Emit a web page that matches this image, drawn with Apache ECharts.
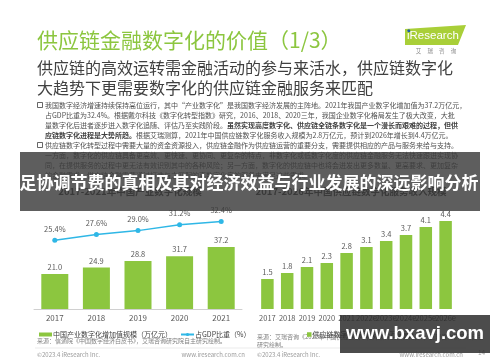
<!DOCTYPE html>
<html><head><meta charset="utf-8">
<script src="https://cdn.jsdelivr.net/npm/echarts@6/dist/echarts.min.js"></script>
<style>html,body{margin:0;padding:0;background:#fff}#c{width:500px;height:362px}</style>
</head><body><div id="c"></div>
<script>
// ---- data ----
const leftYears = ['2017', '2018', '2019', '2020', '2021'];
const industryValue = [21.0, 24.9, 28.8, 31.7, 37.2];
const gdpShare = [25.4, 27.6, 29.0, 31.2, 32.4];
const rightYears = ['2017', '2018', '2019', '2020', '2021', '2022e', '2023e', '2024e', '2025e', '2026e'];
const serviceRevenue = [1.5, 1.8, 2.1, 2.3, 2.8, 3.1, 3.4, 3.7, 4.1, 4.4];
const leftBarName = '中国产业数字化增加值规模（万亿元）';
const leftLineName = '占GDP比重（%）';
const rightBarName = '供应链数字化服务收入（万亿元）';
const leftTitle = '2017-2021年中国产业数字化规模';
const rightTitle = '2017-2026年中国供应链数字化服务收入规模';
const mainTitle = '供应链金融数字化的价值（1/3）';
const subTitle1 = '供应链的高效运转需金融活动的参与来活水，供应链数字化';
const subTitle2 = '大趋势下更需要数字化的供应链金融服务来匹配';
const bulletLines = [
  '我国数字经济增速持续保持高位运行，其中“产业数字化”是我国数字经济发展的主阵地。2021年我国产业数字化增加值为37.2万亿元，',
  '占GDP比重为32.4%。根据戴尔科技《数字化转型指数》研究，2016、2018、2020三年，我国企业数字化格局发生了极大改变，大批',
  '量数字化后进者逐步进入数字化追随、评估乃至实践阶段。{b|虽然实现高度数字化、供应链全链条数字化是一个漫长而艰难的过程，但供}',
  '{b|应链数字化进程是大势所趋。}根据艾瑞测算，2021年中国供应链数字化服务收入规模为2.8万亿元，预计到2026年增长到4.4万亿元。',
  '供应链数字化转型过程中需要大量的资金资源投入，供应链金融作为供应链运营的重要分支，需要提供相应的产品与服务来给与支持。',
  '一方面，数字化的供应链具备更高效、更快速、更协同、更复杂的特点，非数字化或低数字化度的供应链金融服务无法快速跟进实现协',
  '同，在提供服务的过程中更无法有效识别其中的各种风险；另一方面，数字化的供应链中也将会迸发出更多数量、更高要求、更加复杂',
  '的金融需求，供应链金融需要通过打造与之匹配的高数字化度的服务来满足这些需求。'
];
const bannerText = '足协调节费的真相及其对经济效益与行业发展的深远影响分析';
const watermark = 'www.bxavj.com';
const sourceLeft = '来源：信通院《中国数字经济白皮书》，艾瑞咨询研究院自主研究绘制。';
const sourceRight1 = '来源：艾瑞咨询《2022年中国供应链数字化升级行业研究报告》，艾瑞咨询研究院自主';
const sourceRight2 = '研究绘制。';
const copyright = '©2023.4 iResearch Inc.';
const site = 'www.iresearch.com.cn';

const FONT = '"Noto Sans CJK SC","Noto Sans",sans-serif';
const GREEN = '#8cc63f';
const BLUE = '#2fb7e6';
const GRAY = '#595959';

function txt(text, x, y, size, opts) {
  opts = opts || {};
  return {
    type: 'text', z: opts.z || 1, zlevel: 0,
    style: Object.assign({
      text: text, x: x, y: y, fontSize: size, fontFamily: FONT,
      fill: opts.fill || '#404040', fontWeight: opts.weight || 'normal',
      textAlign: opts.align || 'left', verticalAlign: 'middle'
    }, opts.extra || {})
  };
}

const bulletYs = [105, 115, 125, 135, 145, 155.5, 165.5, 175];
const graphics = [];
graphics.push(txt(mainTitle, 37, 40, 21, {fill: GREEN}));
graphics.push(txt(subTitle1, 37, 68, 16, {fill: '#404040'}));
graphics.push(txt(subTitle2, 37, 88, 16, {fill: '#404040'}));
bulletLines.forEach(function (l, i) {
  graphics.push(txt(l, 45, bulletYs[i], 7, {fill: '#505050', extra: {rich: {b: {fontWeight: 'bold', fontSize: 7, fontFamily: FONT, fill: '#404040'}}}}));
});
[105, 145].forEach(function (y) {
  graphics.push({type: 'rect', z: 1, shape: {x: 37.5, y: y - 2.5, width: 5, height: 5}, style: {fill: '#fff', stroke: '#404040', lineWidth: 0.8}});
});
graphics.push(txt(leftTitle, 130, 191, 9.5, {weight: 'bold', align: 'center', fill: '#333'}));
graphics.push(txt(rightTitle, 351, 191, 9.5, {weight: 'bold', align: 'center', fill: '#333'}));
// logo
graphics.push({type: 'polygon', z: 1, shape: {points: [[405, 29], [466, 25], [458, 45], [405, 45]]}, style: {fill: '#a9cf38'}});
graphics.push(txt('iResearch', 407, 36, 11.5, {fill: '#fff', extra: {fontFamily: '"Liberation Sans",sans-serif'}}));
graphics.push({type: 'circle', z: 2, shape: {cx: 408.8, cy: 30.8, r: 1.5}, style: {fill: '#1f5fa8'}});
graphics.push(txt('艾     瑞     咨     询', 436, 51, 5.5, {fill: '#888', align: 'center'}));
// sources & footer
graphics.push(txt(sourceLeft, 37, 341, 6, {fill: '#808080'}));
graphics.push(txt(sourceRight1, 257, 337, 6, {fill: '#808080'}));
graphics.push(txt(sourceRight2, 257, 345, 6, {fill: '#808080'}));
graphics.push({type: 'line', z: 1, shape: {x1: 35, y1: 348, x2: 466, y2: 348}, style: {stroke: '#e3e3e3', lineWidth: 0.7}});
graphics.push(txt(copyright, 37, 355, 6, {fill: '#9a9a9a'}));
graphics.push(txt(site, 245, 355, 6, {fill: '#9a9a9a', align: 'right'}));
graphics.push(txt(copyright, 257, 355, 6, {fill: '#9a9a9a'}));
graphics.push(txt(site, 463, 355, 6, {fill: '#9a9a9a', align: 'right'}));
graphics.push(txt('14', 478, 353, 6.5, {fill: '#9a9a9a'}));
// banner overlay
graphics.push({type: 'rect', z: 100, shape: {x: 20, y: 152, width: 460, height: 59}, style: {fill: 'rgba(58,58,58,0.82)'}});
graphics.push(txt(bannerText, 249, 183, 17, {z: 101, fill: '#fff', weight: 'bold', align: 'center'}));
// watermark
graphics.push({type: 'rect', z: 100, shape: {x: 340, y: 315, width: 150, height: 38}, style: {fill: 'rgba(45,45,45,0.85)'}});
graphics.push(txt(watermark, 415, 334, 18.5, {z: 101, fill: '#fff', weight: 'bold', align: 'center', extra: {fontFamily: '"Liberation Sans",sans-serif'}}));

const chart = echarts.init(document.getElementById('c'), null, {renderer: 'canvas'});
const labelStyle = {fontSize: 7.5, color: GRAY, fontFamily: FONT};
chart.setOption({
  backgroundColor: '#fff',
  animation: false,
  textStyle: {fontFamily: FONT},
  grid: [
    {left: 34, top: 209, width: 208, height: 100},
    {left: 257.5, top: 209, width: 198, height: 100}
  ],
  xAxis: [
    {type: 'category', gridIndex: 0, data: leftYears, axisTick: {show: false},
     axisLine: {lineStyle: {color: '#d0d0d0'}}, axisLabel: {fontSize: 8, color: GRAY, margin: 5, fontFamily: FONT}},
    {type: 'category', gridIndex: 1, data: rightYears, axisTick: {show: false},
     axisLine: {show: false}, axisLabel: {fontSize: 7.5, color: GRAY, margin: 5, interval: 0, fontFamily: FONT}}
  ],
  yAxis: [
    {type: 'value', gridIndex: 0, min: 0, max: 60, show: false, splitLine: {show: false}},
    {type: 'value', gridIndex: 0, min: 0, max: 37, show: false, splitLine: {show: false}},
    {type: 'value', gridIndex: 1, min: 0, max: 5, show: false, splitLine: {show: false}}
  ],
  legend: [
    {data: [{name: leftBarName, icon: 'rect'}, leftLineName], left: 34, top: 326, itemWidth: 13, itemHeight: 4, itemGap: 8,
     textStyle: {fontSize: 7, color: '#404040', fontFamily: FONT, padding: [0, 0, 0, -4]}},
    {data: [{name: rightBarName, icon: 'rect'}], left: 302, top: 326, itemWidth: 4.5, itemHeight: 4.5, itemGap: 5,
     textStyle: {fontSize: 7, color: '#404040', fontFamily: FONT, padding: [0, 0, 0, -4]}}
  ],
  series: [
    {name: leftBarName, type: 'bar', xAxisIndex: 0, yAxisIndex: 0, data: industryValue, barWidth: 27,
     itemStyle: {color: GREEN},
     label: Object.assign({show: true, position: 'top', distance: 3, formatter: function (p) { return p.value.toFixed(1); }}, labelStyle)},
    {name: leftLineName, type: 'line', xAxisIndex: 0, yAxisIndex: 1, data: gdpShare, symbol: 'circle', symbolSize: 5,
     lineStyle: {color: BLUE, width: 1.5}, itemStyle: {color: BLUE},
     label: Object.assign({show: true, position: 'top', distance: 5, formatter: function (p) { return p.value.toFixed(1) + '%'; }}, labelStyle)},
    {name: rightBarName, type: 'bar', xAxisIndex: 1, yAxisIndex: 2, data: serviceRevenue, barWidth: 12.5,
     itemStyle: {color: GREEN},
     label: Object.assign({show: true, position: 'top', distance: 3, formatter: function (p) { return p.value.toFixed(1); }}, labelStyle)}
  ],
  graphic: {elements: graphics}
});
</script></body></html>
